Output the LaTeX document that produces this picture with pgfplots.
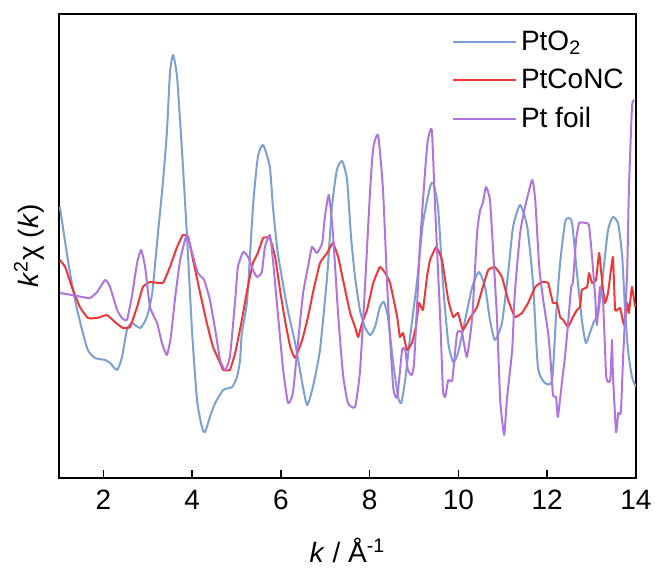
\documentclass[border=0pt]{standalone}
\usepackage{fontspec}
\setmainfont{Liberation Sans}
\usepackage{pgfplots}
\pgfplotsset{compat=1.18}
\definecolor{cblue}{RGB}{122,160,212}
\definecolor{cred}{RGB}{240,55,55}
\definecolor{cpurple}{RGB}{176,116,226}
\begin{document}
\begin{tikzpicture}
\begin{axis}[
  scale only axis, width=288.5pt, height=232pt,
  xmin=1, xmax=14, ymin=-3.56, ymax=5.72,
  xtick={2,4,6,8,10,12,14}, ytick=\empty,
  xtick pos=bottom, tick align=inside, major tick length=4pt,
  tick style={black, line width=0.8pt},
  axis line style={black, line width=1pt},
  /pgf/number format/assume math mode=true,
  ticklabel style={font=\fontsize{14}{16}\selectfont},
  xticklabel style={yshift=-2.5pt, inner xsep=0pt},
  xlabel={\textit{k} / Å\textsuperscript{-1}},
  ylabel={\textit{k}\textsuperscript{2}χ (\textit{k})},
  label style={font=\fontsize{14}{16}\selectfont},
  xlabel style={at={(rel axis cs:0.5,-0.183)}, anchor=base},
  ylabel style={at={(rel axis cs:-0.052,0.5)}, anchor=center},
  legend cell align=left,
  legend style={at={(rel axis cs:0.677,0.978)}, anchor=north west, draw=none, fill=none,
    font=\fontsize{14}{16}\selectfont, row sep=4pt, inner sep=1pt},
  legend image code/.code={\draw[#1] (0pt,0pt) -- (31.5pt,0pt);},
  every axis plot/.append style={line width=1pt, line join=round},
]
\addplot[cblue, smooth, tension=0.35] coordinates {
(1.02,1.86)(1.20,0.80)(1.36,0.00)(1.52,-0.60)(1.65,-1.00)(1.81,-1.16)(2.04,-1.20)(2.15,-1.26)
(2.31,-1.40)(2.42,-1.14)(2.53,-0.60)(2.64,-0.46)(2.83,-0.56)(2.98,-0.34)(3.10,0.14)(3.23,1.34)
(3.34,2.34)(3.43,3.34)(3.50,4.54)(3.57,4.90)(3.66,4.46)(3.77,3.00)(3.88,1.34)(4.00,-0.66)
(4.11,-2.00)(4.22,-2.54)(4.29,-2.64)(4.40,-2.34)(4.52,-2.06)(4.70,-1.80)(4.90,-1.74)(5.01,-1.54)
(5.08,-1.20)(5.12,-0.66)(5.24,0.00)(5.37,1.86)(5.48,2.86)(5.60,3.10)(5.75,2.66)(5.82,1.86)(5.93,0.94)
(6.14,-0.14)(6.32,-0.86)(6.48,-1.66)(6.59,-2.10)(6.72,-1.74)(6.88,-1.00)(7.04,0.46)(7.15,1.86)
(7.26,2.60)(7.38,2.78)(7.49,2.40)(7.58,1.26)(7.67,0.46)(7.78,-0.20)(7.89,-0.54)(8.01,-0.70)
(8.12,-0.54)(8.23,-0.14)(8.32,-0.04)(8.41,-0.34)(8.53,-1.26)(8.64,-1.94)(8.71,-2.06)(8.80,-1.60)
(8.91,-0.74)(9.07,0.40)(9.20,1.54)(9.36,2.26)(9.43,2.34)(9.54,1.86)(9.65,0.34)(9.77,-0.86)
(9.88,-1.24)(9.99,-1.06)(10.15,-0.40)(10.31,0.26)(10.46,0.56)(10.60,0.26)(10.71,-0.40)(10.82,-0.80)
(10.98,-0.46)(11.12,0.54)(11.23,1.46)(11.39,1.90)(11.55,1.46)(11.68,0.34)(11.79,-1.34)(11.95,-1.66)
(12.11,-1.60)(12.20,-0.30)(12.29,0.74)(12.40,1.54)(12.47,1.64)(12.56,1.54)(12.67,0.54)(12.78,-0.40)
(12.87,-0.86)(12.96,-0.66)(13.05,-0.44)(13.15,-0.26)(13.26,0.54)(13.37,1.40)(13.48,1.66)(13.60,1.52)
(13.69,0.86)(13.75,-0.14)(13.82,-1.00)(13.91,-1.54)(14.00,-1.74)
};
\addlegendentry{PtO\textsubscript{2}}
\addplot[cred, smooth, tension=0.2] coordinates {
(1.02,0.80)(1.14,0.66)(1.29,0.26)(1.47,-0.14)(1.65,-0.36)(1.86,-0.36)(2.08,-0.30)(2.26,-0.44)
(2.44,-0.56)(2.60,-0.54)(2.76,-0.14)(2.89,0.26)(3.05,0.36)(3.34,0.34)(3.50,0.66)(3.66,1.06)
(3.79,1.30)(3.91,1.26)(4.02,0.80)(4.18,0.14)(4.33,-0.46)(4.47,-0.94)(4.63,-1.26)(4.70,-1.40)
(4.85,-1.40)(4.97,-1.06)(5.12,-0.40)(5.24,0.20)(5.37,0.74)(5.48,0.94)(5.60,1.24)(5.75,1.24)
(5.87,0.86)(5.98,0.20)(6.09,-0.40)(6.21,-0.94)(6.32,-1.16)(6.48,-0.80)(6.61,-0.34)(6.72,0.14)
(6.88,0.74)(7.04,0.94)(7.17,1.14)(7.29,0.86)(7.40,0.40)(7.56,-0.26)(7.67,-0.54)(7.74,-0.74)
(7.83,-0.46)(7.94,-0.20)(8.08,0.34)(8.23,0.66)(8.35,0.54)(8.46,0.34)(8.62,-0.34)(8.68,-0.74)
(8.75,-0.66)(8.84,-1.00)(8.95,-0.86)(9.04,-0.54)(9.11,-0.06)(9.20,-0.20)(9.29,0.46)(9.36,0.80)
(9.50,1.06)(9.63,0.80)(9.77,0.00)(9.88,-0.34)(9.99,-0.26)(10.10,-0.60)(10.26,-0.36)(10.42,-0.14)
(10.53,0.20)(10.67,0.60)(10.82,0.66)(10.98,0.46)(11.12,0.00)(11.27,-0.34)(11.43,-0.26)(11.57,-0.06)
(11.73,0.26)(11.88,0.36)(12.02,0.34)(12.13,-0.06)(12.22,-0.06)(12.29,-0.34)(12.36,-0.40)(12.47,-0.54)
(12.58,-0.34)(12.67,-0.20)(12.74,-0.14)(12.78,0.20)(12.90,0.26)(12.94,0.54)(13.01,0.34)(13.10,0.40)
(13.17,0.94)(13.24,0.34)(13.30,-0.06)(13.37,0.14)(13.48,0.86)(13.53,-0.20)(13.64,-0.16)(13.73,-0.50)
(13.80,-0.06)(13.84,-0.26)(13.91,0.26)(13.98,-0.14)
};
\addlegendentry{PtCoNC}
\addplot[cpurple, smooth, tension=0.3] coordinates {
(1.02,0.14)(1.29,0.10)(1.52,0.06)(1.70,0.04)(1.86,0.16)(2.04,0.40)(2.15,0.26)(2.31,-0.20)
(2.42,-0.36)(2.53,-0.40)(2.64,0.06)(2.76,0.74)(2.85,1.00)(2.94,0.66)(3.05,-0.14)(3.21,-0.46)
(3.32,-0.86)(3.43,-1.10)(3.52,-0.74)(3.61,0.00)(3.73,0.80)(3.88,1.30)(4.00,0.94)(4.13,0.54)
(4.27,0.40)(4.40,0.00)(4.52,-0.60)(4.63,-1.20)(4.74,-1.40)(4.85,-1.14)(4.97,0.00)(5.03,0.66)
(5.15,0.96)(5.26,0.86)(5.37,0.60)(5.46,0.46)(5.57,0.56)(5.64,1.06)(5.75,1.30)(5.82,0.80)
(5.93,-0.26)(6.05,-1.40)(6.16,-2.06)(6.27,-1.86)(6.39,-0.80)(6.50,0.14)(6.61,0.66)(6.70,1.06)
(6.81,0.94)(6.93,1.14)(6.99,1.66)(7.08,2.10)(7.17,1.36)(7.29,-0.30)(7.40,-1.50)(7.51,-2.06)
(7.67,-2.14)(7.78,-1.44)(7.89,0.20)(8.01,2.20)(8.08,3.04)(8.19,3.30)(8.30,2.20)(8.41,0.00)
(8.53,-1.74)(8.62,-1.94)(8.73,-1.00)(8.80,-1.00)(8.86,-1.40)(8.95,-1.50)(9.00,-1.26)(9.07,-0.06)
(9.13,1.06)(9.25,2.60)(9.31,3.20)(9.40,3.40)(9.47,1.94)(9.59,-0.40)(9.65,-1.80)(9.70,-1.94)
(9.77,-1.60)(9.86,-1.60)(9.97,-0.66)(10.08,-0.66)(10.19,-1.14)(10.31,-0.34)(10.42,1.34)(10.49,1.80)
(10.55,1.94)(10.62,2.26)(10.71,2.00)(10.78,1.00)(10.87,-0.40)(10.94,-2.00)(11.03,-2.70)(11.09,-2.00)
(11.21,-1.00)(11.27,0.14)(11.39,1.34)(11.50,1.86)(11.66,2.40)(11.73,2.00)(11.82,0.66)(11.91,0.00)
(12.02,-0.66)(12.07,-1.14)(12.13,-1.90)(12.20,-1.94)(12.24,-2.34)(12.33,-1.66)(12.40,-1.14)(12.47,-0.46)
(12.54,0.26)(12.58,0.36)(12.65,1.20)(12.72,1.54)(12.85,1.54)(12.94,1.50)(13.01,0.86)(13.08,0.06)
(13.12,-0.50)(13.19,0.26)(13.26,-0.06)(13.33,-1.54)(13.42,-1.60)(13.46,-0.80)(13.48,-1.46)(13.55,-2.64)
(13.60,-2.26)(13.66,-2.24)(13.71,-1.14)(13.80,0.54)(13.84,2.20)(13.91,3.86)(13.96,4.00)
};
\addlegendentry{Pt foil}
\end{axis}
\path ([shift={(-29.5pt,-44pt)}]current axis.south west) rectangle ([shift={(9.5pt,7pt)}]current axis.north east);
\end{tikzpicture}
\end{document}
